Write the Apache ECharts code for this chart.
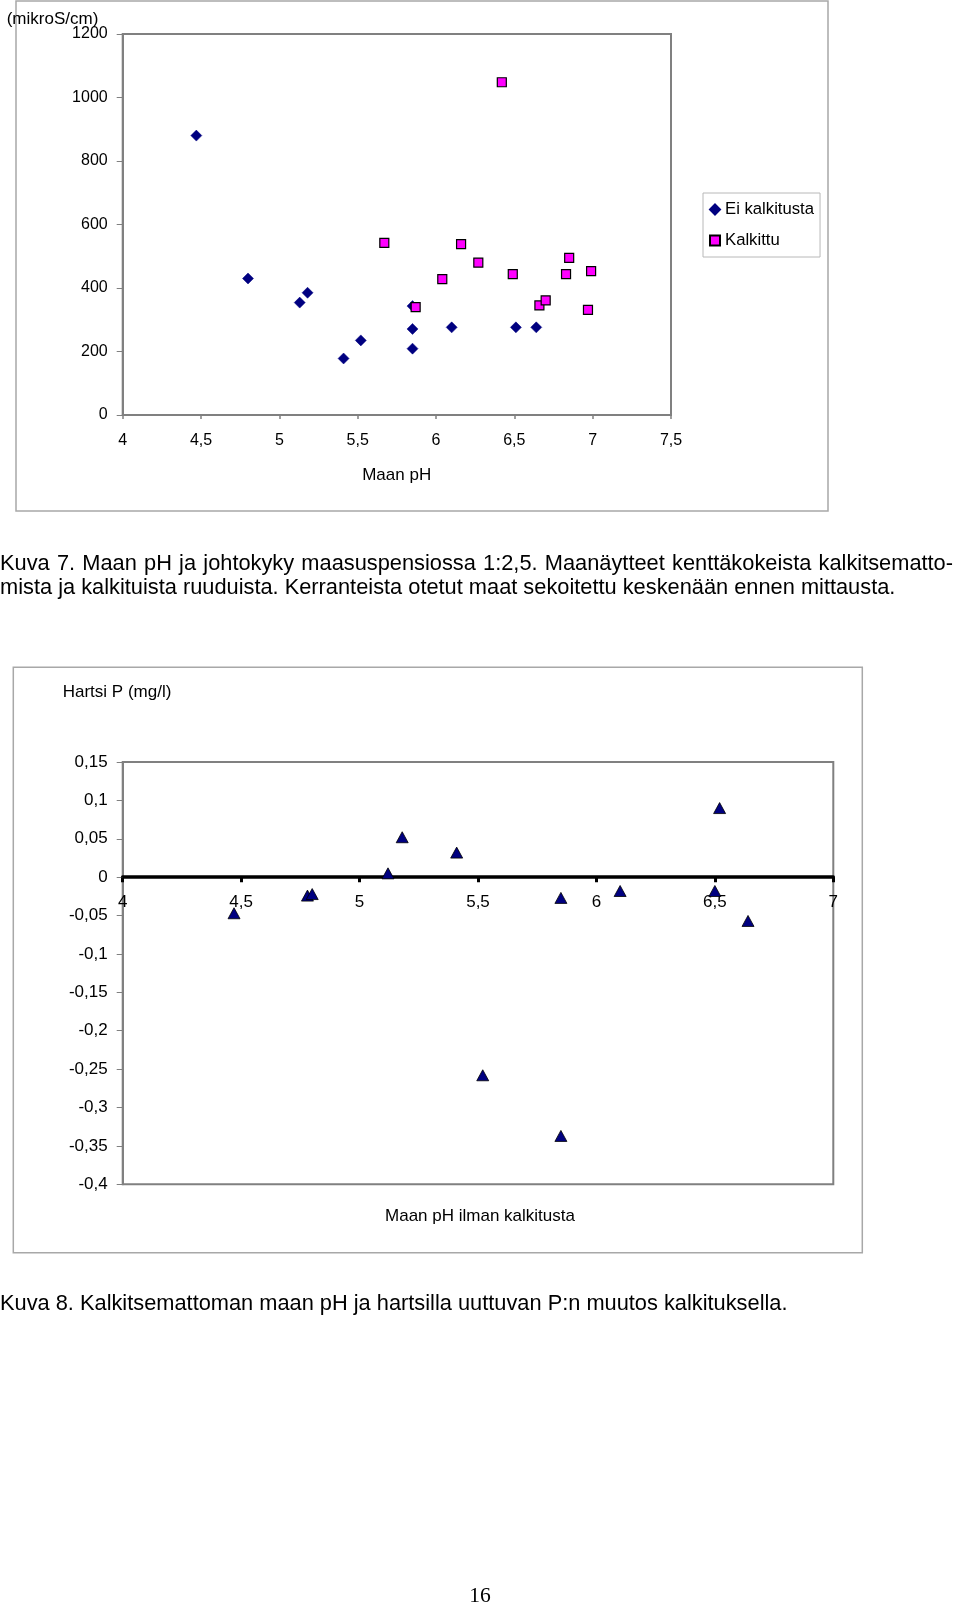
<!DOCTYPE html>
<html>
<head>
<meta charset="utf-8">
<script src="https://cdn.jsdelivr.net/npm/echarts@6/dist/echarts.min.js"></script>
<style>
  html, body { margin: 0; padding: 0; background: #fff; }
  #page { position: relative; width: 960px; height: 1614px; overflow: hidden; }
  #chart { position: absolute; left: 0; top: 0; width: 960px; height: 1614px; }
  .cap { position: absolute; left: 0; font-family: "Liberation Sans", Arial, sans-serif; font-size: 21.8px; line-height: 24.3px; color: #000; white-space: nowrap; }
  .just { width: 953px; text-align: justify; text-align-last: justify; }
  #pnum { position: absolute; left: 0; width: 960px; text-align: center; font-family: "Liberation Serif", "Times New Roman", serif; font-size: 21.5px; line-height: 24px; color: #000; }
</style>
</head>
<body>
<div id="page">
  <div id="chart"></div>
  <div class="cap just" style="top:551px;">Kuva 7. Maan pH ja johtokyky maasuspensiossa 1:2,5. Maanäytteet kenttäkokeista kalkitsematto-</div>
  <div class="cap" style="top:575.3px;">mista ja kalkituista ruuduista. Kerranteista otetut maat sekoitettu keskenään ennen mittausta.</div>
  <div class="cap" style="top:1291.3px;">Kuva 8. Kalkitsemattoman maan pH ja hartsilla uuttuvan P:n muutos kalkituksella.</div>
  <div id="pnum" style="top:1583px;">16</div>
</div>
<script>
// ---- Data: Figure 7 (conductivity vs soil pH) ----
const seriesNames1 = ["Ei kalkitusta", "Kalkittu"];
const phUnlimed = [4.47, 4.80, 5.13, 5.18, 5.41, 5.52, 5.85, 5.85, 5.85, 6.10, 6.51, 6.64];
const condUnlimed = [880, 430, 354, 385, 178, 235, 343, 271, 209, 276, 276, 276];
const phLimed = [5.67, 5.87, 6.04, 6.16, 6.27, 6.42, 6.49, 6.66, 6.70, 6.83, 6.85, 6.97, 6.99];
const condLimed = [542, 340, 428, 538, 480, 1048, 444, 345, 361, 444, 495, 331, 453];
const xRange1 = [4, 7.5, 0.5];
const yRange1 = [0, 1200, 200];

// ---- Data: Figure 8 (change of resin P vs unlimed soil pH) ----
const phChart2 = [4.47, 4.78, 4.80, 5.12, 5.18, 5.41, 5.52, 5.85, 5.85, 6.10, 6.50, 6.52, 6.64];
const deltaP = [-0.047, -0.024, -0.022, 0.005, 0.052, 0.032, -0.258, -0.027, -0.337, -0.018, -0.018, 0.090, -0.057];
const xRange2 = [4, 7, 0.5];
const yRange2 = [-0.4, 0.15, 0.05];

// ---- Texts ----
const yName1 = "(mikroS/cm)";
const xName1 = "Maan pH";
const yName2 = "Hartsi P (mg/l)";
const xName2 = "Maan pH ilman kalkitusta";

const FONT = '"Liberation Sans", Arial, sans-serif';
const comma = v => String(+(+v).toFixed(2)).replace('.', ',');

function zip(xs, ys) { return xs.map((x, i) => [x, ys[i]]); }

// grid geometry for figure 8, used to place the x axis on the zero line
const g2 = { left: 122.7, top: 762, width: 710.6, height: 422.3 };
const zeroOffset = -g2.height * (0 - yRange2[0]) / (yRange2[1] - yRange2[0]);

const chart = echarts.init(document.getElementById('chart'), null, { renderer: 'canvas' });

const option = {
  animation: false,
  backgroundColor: '#ffffff',
  textStyle: { fontFamily: FONT },
  grid: [
    { left: 122.7, top: 34, width: 548.3, height: 381, containLabel: false, show: true,
      borderColor: '#808080', borderWidth: 2, backgroundColor: 'transparent' },
    { left: g2.left, top: g2.top, width: g2.width, height: g2.height, containLabel: false, show: true,
      borderColor: '#808080', borderWidth: 2, backgroundColor: 'transparent' }
  ],
  xAxis: [
    { gridIndex: 0, type: 'value', min: xRange1[0], max: xRange1[1], interval: xRange1[2],
      axisLine: { show: true, onZero: false, lineStyle: { color: '#808080', width: 2 } },
      axisTick: { show: true, length: 4, lineStyle: { color: '#808080', width: 1.5 } },
      splitLine: { show: false },
      axisLabel: { color: '#000', fontSize: 16, fontFamily: FONT, margin: 18, formatter: comma, showMinLabel: true, showMaxLabel: true } },
    { gridIndex: 1, type: 'value', min: xRange2[0], max: xRange2[1], interval: xRange2[2],
      position: 'bottom', offset: zeroOffset,
      axisLine: { show: true, onZero: false, lineStyle: { color: '#000', width: 3.5 } },
      axisTick: { show: true, length: 5, inside: false, lineStyle: { color: '#000', width: 3 } },
      splitLine: { show: false },
      axisLabel: { color: '#000', fontSize: 17, fontFamily: FONT, margin: 17, formatter: comma, showMinLabel: true, showMaxLabel: true } }
  ],
  yAxis: [
    { gridIndex: 0, type: 'value', min: yRange1[0], max: yRange1[1], interval: yRange1[2],
      axisLine: { show: true, lineStyle: { color: '#808080', width: 2 } },
      axisTick: { show: true, length: 6, lineStyle: { color: '#808080', width: 1 } },
      splitLine: { show: false },
      axisLabel: { color: '#000', fontSize: 16, fontFamily: FONT, margin: 15, formatter: v => String(v) } },
    { gridIndex: 1, type: 'value', min: yRange2[0], max: yRange2[1], interval: yRange2[2],
      axisLine: { show: true, onZero: false, lineStyle: { color: '#808080', width: 2 } },
      axisTick: { show: true, length: 6, lineStyle: { color: '#808080', width: 1 } },
      splitLine: { show: false },
      axisLabel: { color: '#000', fontSize: 17, fontFamily: FONT, margin: 15, formatter: comma } }
  ],
  legend: {
    orient: 'vertical', left: 703, top: 193,
    padding: [8, 6, 8, 6], itemGap: 14, itemWidth: 10, itemHeight: 10,
    borderColor: '#b8b8b8', borderWidth: 1, backgroundColor: '#fff',
    textStyle: { color: '#000', fontSize: 16.7, fontFamily: FONT },
    data: [
      { name: seriesNames1[0], icon: 'diamond' },
      { name: seriesNames1[1], icon: 'rect' }
    ]
  },
  series: [
    { name: seriesNames1[0], type: 'scatter', xAxisIndex: 0, yAxisIndex: 0,
      symbol: 'diamond', symbolSize: 11,
      itemStyle: { color: '#000080', borderColor: '#000080', borderWidth: 0.5, opacity: 1 },
      data: zip(phUnlimed, condUnlimed) },
    { name: seriesNames1[1], type: 'scatter', xAxisIndex: 0, yAxisIndex: 0,
      symbol: 'rect', symbolSize: 9,
      itemStyle: { color: '#ff00ff', borderColor: '#000', borderWidth: 1.2, opacity: 1 },
      data: zip(phLimed, condLimed) },
    { name: 'Hartsi P', type: 'scatter', xAxisIndex: 1, yAxisIndex: 1,
      symbol: 'triangle', symbolSize: [12, 11],
      itemStyle: { color: '#000080', borderColor: '#000', borderWidth: 0.8, opacity: 1 },
      data: zip(phChart2, deltaP) }
  ],
  graphic: [
    { type: 'rect', silent: true, z: -10,
      shape: { x: 16, y: 1, width: 812, height: 510 },
      style: { fill: 'none', stroke: '#a8a8a8', lineWidth: 1.5 } },
    { type: 'rect', silent: true, z: -10,
      shape: { x: 13.3, y: 667.3, width: 849, height: 585.4 },
      style: { fill: 'none', stroke: '#a8a8a8', lineWidth: 1.5 } },
    { type: 'text', x: 6.7, y: 19,
      style: { text: yName1, font: '17px ' + FONT, fill: '#000', align: 'left', verticalAlign: 'middle' } },
    { type: 'text', x: 396.7, y: 475.3,
      style: { text: xName1, font: '17px ' + FONT, fill: '#000', align: 'center', verticalAlign: 'middle' } },
    { type: 'text', x: 62.7, y: 692.3,
      style: { text: yName2, font: '17px ' + FONT, fill: '#000', align: 'left', verticalAlign: 'middle' } },
    { type: 'text', x: 480, y: 1216,
      style: { text: xName2, font: '17px ' + FONT, fill: '#000', align: 'center', verticalAlign: 'middle' } }
  ]
};
chart.setOption(option);
</script>
</body>
</html>
